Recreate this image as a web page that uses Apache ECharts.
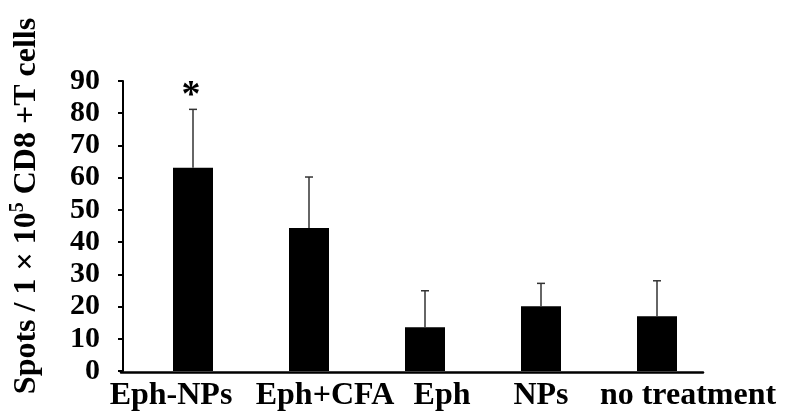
<!DOCTYPE html>
<html>
<head>
<meta charset="utf-8">
<script src="https://cdn.jsdelivr.net/npm/echarts@6/dist/echarts.min.js"></script>
<style>html,body{margin:0;padding:0;background:#fff;}#c{width:791px;height:412px;}</style>
</head>
<body>
<div id="c"></div>
<script>
const categories = ['Eph-NPs', 'Eph+CFA', 'Eph', 'NPs', 'no treatment'];
const means = [63.1, 44.4, 13.6, 20.1, 17.0];
const errors = [18.1, 15.8, 11.3, 7.1, 11.0];
const significance = ['*', '', '', '', ''];
const yMin = 0, yMax = 90, yStep = 10;

const labelShift = [-22, 16, 17, 0, 31];
const FONT = '"Liberation Serif", "Times New Roman", serif';

const rich = {};
categories.forEach((c, i) => {
  const d = labelShift[i];
  rich['l' + i] = {
    fontFamily: FONT, fontWeight: 'bold', fontSize: 32, color: '#000',
    padding: d >= 0 ? [0, 0, 0, 2 * d] : [0, -2 * d, 0, 0]
  };
});

const errData = categories.map((c, i) => [i, means[i], means[i] + errors[i], significance[i]]);

const chart = echarts.init(document.getElementById('c'), null, {renderer: 'canvas'});
chart.setOption({
  animation: false,
  backgroundColor: '#fff',
  grid: [
    {left: 133, width: 582, top: 81, height: 291},
    {left: 121, width: 582, top: 81, height: 291}
  ],
  xAxis: [
    {
      type: 'category', gridIndex: 0, data: categories,
      axisLine: {show: false}, axisTick: {show: false},
      axisLabel: {
        interval: 0, margin: 9,
        formatter: (v, i) => '{l' + i + '|' + v + '}',
        rich: rich
      }
    },
    {
      type: 'value', gridIndex: 1, min: 0, max: 1,
      axisLine: {show: true, lineStyle: {color: '#000', width: 2.5}},
      axisTick: {show: false}, axisLabel: {show: false}, splitLine: {show: false}
    }
  ],
  yAxis: [
    {
      type: 'value', gridIndex: 0, min: yMin, max: yMax, interval: yStep, offset: 12,
      axisLine: {show: true, lineStyle: {color: '#000', width: 2}},
      axisTick: {show: true, length: 5, lineStyle: {color: '#000', width: 2}},
      splitLine: {show: false},
      axisLabel: {margin: 23, fontFamily: FONT, fontWeight: 'bold', fontSize: 30, color: '#000'},
      name: '{a|Spots / 1 × 10}{s|5}{a| CD8 +T cells}',
      nameLocation: 'middle', nameGap: 80, nameRotate: 90,
      nameTextStyle: {
        padding: [0, 0, 0, 40],
        rich: {
          a: {fontFamily: FONT, fontWeight: 'bold', fontSize: 32, color: '#000', lineHeight: 35, verticalAlign: 'bottom'},
          s: {fontFamily: FONT, fontWeight: 'bold', fontSize: 20, color: '#000', lineHeight: 35, verticalAlign: 'top'}
        }
      }
    },
    {
      type: 'value', gridIndex: 1, min: 0, max: 1, show: false
    }
  ],
  series: [
    {
      type: 'bar', xAxisIndex: 0, yAxisIndex: 0, data: means, barWidth: 40,
      itemStyle: {color: '#000'}
    },
    {
      type: 'custom', xAxisIndex: 0, yAxisIndex: 0, data: errData, z: 5,
      renderItem: function (params, api) {
        const x = api.value(0);
        const top = api.coord([x, api.value(2)]);
        const base = api.coord([x, api.value(1)]);
        const capHalf = 4;
        const children = [
          {type: 'line', shape: {x1: top[0], y1: base[1], x2: top[0], y2: top[1]}, style: {stroke: '#333', lineWidth: 1.5}},
          {type: 'line', shape: {x1: top[0] - capHalf, y1: top[1], x2: top[0] + capHalf, y2: top[1]}, style: {stroke: '#333', lineWidth: 1.5}}
        ];
        const sig = errData[params.dataIndex][3];
        if (sig) {
          children.push({
            type: 'text',
            style: {
              text: sig, x: top[0] - 2, y: top[1] + 6, align: 'center', verticalAlign: 'bottom',
              font: 'bold 38px ' + FONT, fill: '#000'
            }
          });
        }
        return {type: 'group', children: children};
      }
    }
  ]
});
</script>
</body>
</html>
